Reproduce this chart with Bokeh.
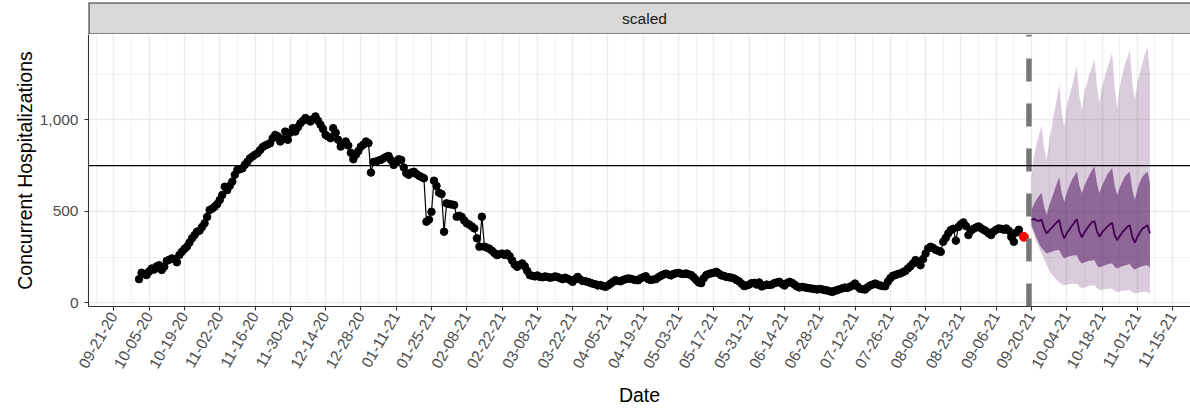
import math
import pandas as pd
from bokeh.plotting import figure
from bokeh.layouts import column
from bokeh.models import (Range1d, FixedTicker, DatetimeTickFormatter,
                          NumeralTickFormatter, Span, Label)
from bokeh.embed import file_html
from bokeh.resources import INLINE

# ---------------- data ----------------
obs_start = "2020-10-01"
observed = [
    # Oct 2020
    130, 165, 158, 152, 172, 188, 182, 200, 206, 180, 198, 230, 236, 243, 238, 222,
    262, 279, 295, 307, 330, 353, 370, 389, 395, 415, 435, 470, 508, 515, 526,
    # Nov 2020
    540, 562, 590, 635, 617, 640, 663, 700, 727, 730, 736, 755, 772, 790, 800,
    810, 818, 835, 851, 860, 866, 873, 900, 918, 910, 882, 895, 936, 891, 930,
    # Dec 2020
    955, 936, 960, 982, 995, 1010, 1000, 991, 1005, 1019, 995, 973, 950, 918, 909,
    900, 955, 930, 891, 854, 870, 882, 860, 820, 785, 810, 830, 854, 865, 882, 873,
    # Jan 2021
    712, 770, 772, 778, 782, 790, 798, 803, 780, 754, 768, 785, 781, 740, 709, 700,
    712, 717, 705, 695, 688, 681, 444, 455, 498, 668, 639, 602, 595, 389, 544,
    # Feb 2021
    540, 538, 535, 471, 476, 470, 450, 435, 428, 418, 407, 353, 307, 471,
    307, 302, 296, 285, 272, 261, 266, 270, 262, 270, 255, 232, 210, 197,
    # Mar 2021
    208, 216, 200, 175, 152, 148, 145, 150, 142, 140, 145, 142, 138, 140, 145, 142,
    135, 130, 138, 132, 125, 115, 130, 142, 128, 120, 118, 115, 110, 105, 102,
    # Apr 2021
    95, 98, 92, 88, 95, 105, 115, 124, 120, 118, 125, 130, 134, 132, 128,
    125, 124, 135, 140, 146, 130, 125, 128, 130, 140, 148, 155, 160, 155, 150,
    # May 2021
    158, 162, 164, 160, 158, 161, 156, 152, 140, 125, 112, 108, 135, 152, 158, 162,
    165, 170, 160, 150, 148, 142, 140, 138, 134, 125, 118, 105, 92, 95, 100,
    # Jun 2021
    108, 110, 100, 112, 90, 95, 100, 98, 100, 108, 112, 115, 105, 95, 108,
    115, 110, 100, 90, 84, 88, 85, 82, 80, 78, 76, 73, 76, 74, 70,
    # Jul 2021
    68, 64, 60, 66, 70, 75, 80, 84, 82, 88, 95, 106, 90, 78, 75, 73,
    85, 95, 100, 106, 100, 95, 92, 91, 115, 135, 148, 152, 158, 161, 168,
    # Aug 2021
    175, 188, 200, 215, 234, 220, 206, 240, 270, 298, 307, 300, 290, 285, 279, 334,
    355, 380, 398, 405, 340, 415, 430, 440, 420, 371, 395, 405, 412, 418, 408,
    # Sep 2021
    400, 392, 380, 371, 390, 400, 407, 405, 400, 407, 395, 360, 334, 385, 400,
]

last_date = "2021-09-17"
last_value = 361

cutoff_date = "2021-09-19"
threshold = 750

forecast_start = "2021-09-20"
median = [453, 460, 450, 448, 455, 410, 380, 395, 410, 425, 440, 453, 390, 353, 380, 400,
          420, 440, 457, 390, 358, 385, 405, 425, 440, 447, 390, 362, 385, 400, 415, 428,
          438, 370, 343, 365, 385, 400, 415, 425, 360, 329, 360, 385, 405, 415, 425, 380]
inner_upper = [507, 540, 565, 585, 602, 530, 480, 530, 570, 610, 650, 687, 600, 553, 600, 640,
               670, 695, 717, 640, 599, 640, 670, 700, 725, 745, 650, 599, 640, 670, 700, 720,
               736, 640, 590, 630, 660, 690, 705, 717, 620, 562, 620, 660, 690, 705, 717, 654]
inner_lower = [425, 390, 355, 325, 300, 285, 270, 275, 280, 285, 288, 289, 260, 243, 250, 255,
               258, 260, 261, 230, 216, 222, 226, 230, 232, 234, 205, 194, 200, 205, 210, 214,
               216, 198, 188, 195, 200, 205, 208, 212, 192, 183, 190, 196, 200, 204, 206, 194]
outer_upper = [690, 800, 870, 920, 968, 850, 781, 880, 960, 1040, 1110, 1192, 1040, 960, 1073, 1130,
               1180, 1240, 1292, 1130, 1055, 1155, 1200, 1250, 1290, 1333, 1180, 1092, 1183, 1230, 1280, 1320,
               1366, 1180, 1065, 1183, 1240, 1300, 1340, 1380, 1200, 1110, 1200, 1260, 1310, 1360, 1399, 1256]
outer_lower = [416, 370, 330, 300, 270, 240, 206, 180, 158, 140, 124, 112, 100, 97, 100, 102,
               104, 105, 106, 90, 79, 84, 88, 92, 95, 97, 80, 70, 73, 75, 77, 78,
               79, 66, 60, 63, 66, 68, 69, 70, 58, 51, 55, 57, 59, 60, 60, 48]

y_ticks = [0, 500, 1000]
y_minor = [250, 750, 1250]
x_tick_first, x_tick_last = "2020-09-21", "2021-11-15"
strip_label = "scaled"
x_title = "Date"
y_title = "Concurrent Hospitalizations"

# ---------------- layout constants ----------------
FONT = "Liberation Sans"
W = 1190
LEFT = 88
STRIP_TOP = 2
STRIP_H = 34          # includes 2px top margin
MAIN_H = 375
BOTTOM = 102
FULL_PANEL_W = 1112   # panel width of the original (its right end is cut off)

obs_dates = pd.date_range(obs_start, periods=len(observed), freq="D")
fc_dates = pd.date_range(forecast_start, periods=len(median), freq="D")

x_first, x_last = obs_dates[0], fc_dates[-1]
span = x_last - x_first
x_lo = x_first - 0.05 * span
x_hi = x_last + 0.05 * span
x_end = x_lo + (x_hi - x_lo) * ((W - LEFT) / FULL_PANEL_W)
x_mid = x_lo + (x_hi - x_lo) / 2

all_y = observed + [last_value] + outer_lower + outer_upper
ymin, ymax = min(all_y), max(all_y)
y_lo = ymin - 0.05 * (ymax - ymin)
y_hi = ymax + 0.05 * (ymax - ymin)

major_ticks = pd.date_range(x_tick_first, x_tick_last, freq="14D")
minor_ticks = pd.date_range(pd.Timestamp(x_tick_first) - pd.Timedelta(days=7),
                            pd.Timestamp(x_tick_last) + pd.Timedelta(days=7), freq="14D")
to_ms = lambda d: pd.Timestamp(d).timestamp() * 1000.0

# ---------------- main panel ----------------
p = figure(width=W, height=MAIN_H, x_axis_type="datetime",
           x_range=Range1d(x_lo.to_pydatetime(), x_end.to_pydatetime()),
           y_range=Range1d(y_lo, y_hi),
           toolbar_location=None, tools="", output_backend="svg",
           min_border_left=LEFT, min_border_right=0, min_border_top=0,
           min_border_bottom=BOTTOM)
p.outline_line_color = None
p.background_fill_color = "white"

for g in (p.xgrid, p.ygrid):
    g.grid_line_color = "#ebebeb"
    g.grid_line_width = 1.4
    g.minor_grid_line_color = "#ebebeb"
    g.minor_grid_line_width = 0.7

p.xaxis.ticker = FixedTicker(ticks=[to_ms(d) for d in major_ticks],
                             minor_ticks=[to_ms(d) for d in minor_ticks])
fmt = "%m-%d-%y"
p.xaxis.formatter = DatetimeTickFormatter(days=fmt, months=fmt, years=fmt, hours=fmt,
                                          hourmin=fmt, minutes=fmt, minsec=fmt, seconds=fmt)
p.xaxis.major_label_orientation = math.pi / 3
p.yaxis.ticker = FixedTicker(ticks=y_ticks, minor_ticks=y_minor)
p.yaxis.formatter = NumeralTickFormatter(format="0,0")

for ax in (p.xaxis, p.yaxis):
    ax.axis_line_color = "#333333"
    ax.axis_line_width = 1.1
    ax.major_tick_line_color = "#333333"
    ax.major_tick_line_width = 1.1
    ax.major_tick_out = 4
    ax.major_tick_in = 0
    ax.minor_tick_out = 0
    ax.minor_tick_in = 0
    ax.major_label_text_font = FONT
    ax.major_label_text_font_size = "15.5px"
    ax.major_label_text_color = "#4d4d4d"
    ax.axis_label_text_font = FONT
    ax.axis_label_text_font_size = "19.5px"
    ax.axis_label_text_font_style = "normal"
    ax.axis_label_text_color = "black"

p.xaxis.axis_label = x_title
p.yaxis.axis_label = y_title
p.xaxis.major_label_standoff = 3
p.yaxis.major_label_standoff = 6
p.xaxis.axis_label_standoff = 9
p.yaxis.axis_label_standoff = 1

# forecast ribbons and median
p.varea(x=fc_dates, y1=outer_lower, y2=outer_upper, fill_color="#440154", fill_alpha=0.2)
p.varea(x=fc_dates, y1=inner_lower, y2=inner_upper, fill_color="#440154", fill_alpha=0.5)
p.line(x=fc_dates, y=median, line_color="#440154", line_width=1.8)

# observed series
p.line(x=obs_dates, y=observed, line_color="black", line_width=1.2)
p.scatter(x=obs_dates, y=observed, size=7.5, fill_color="black", line_color="black")
p.scatter(x=[pd.Timestamp(last_date)], y=[last_value], size=9, fill_color="red", line_color="red")

# reference lines
p.add_layout(Span(location=threshold, dimension="width", line_color="black", line_width=1.4))
p.segment(x0=[pd.Timestamp(cutoff_date)], y0=[y_lo], x1=[pd.Timestamp(cutoff_date)], y1=[y_hi],
          line_color="#777777", line_width=5.5, line_dash="23 22")

# ---------------- facet strip ----------------
s = figure(width=W, height=STRIP_H, x_range=p.x_range, y_range=Range1d(0, 1),
           toolbar_location=None, tools="", output_backend="svg",
           min_border_left=LEFT, min_border_right=0, min_border_top=STRIP_TOP,
           min_border_bottom=0, x_axis_location=None, y_axis_location=None)
s.grid.visible = False
s.outline_line_color = None
s.quad(left=[x_lo], right=[x_hi], bottom=[0], top=[1],
       fill_color="#d9d9d9", line_color="#333333", line_width=2.2)
s.add_layout(Label(x=to_ms(x_mid), y=0.5, text=strip_label, text_align="center",
                   text_baseline="middle", text_font=FONT, text_font_size="15.5px",
                   text_color="#1a1a1a"))

layout = column(s, p)
open("out.html", "w").write(file_html(layout, INLINE))
